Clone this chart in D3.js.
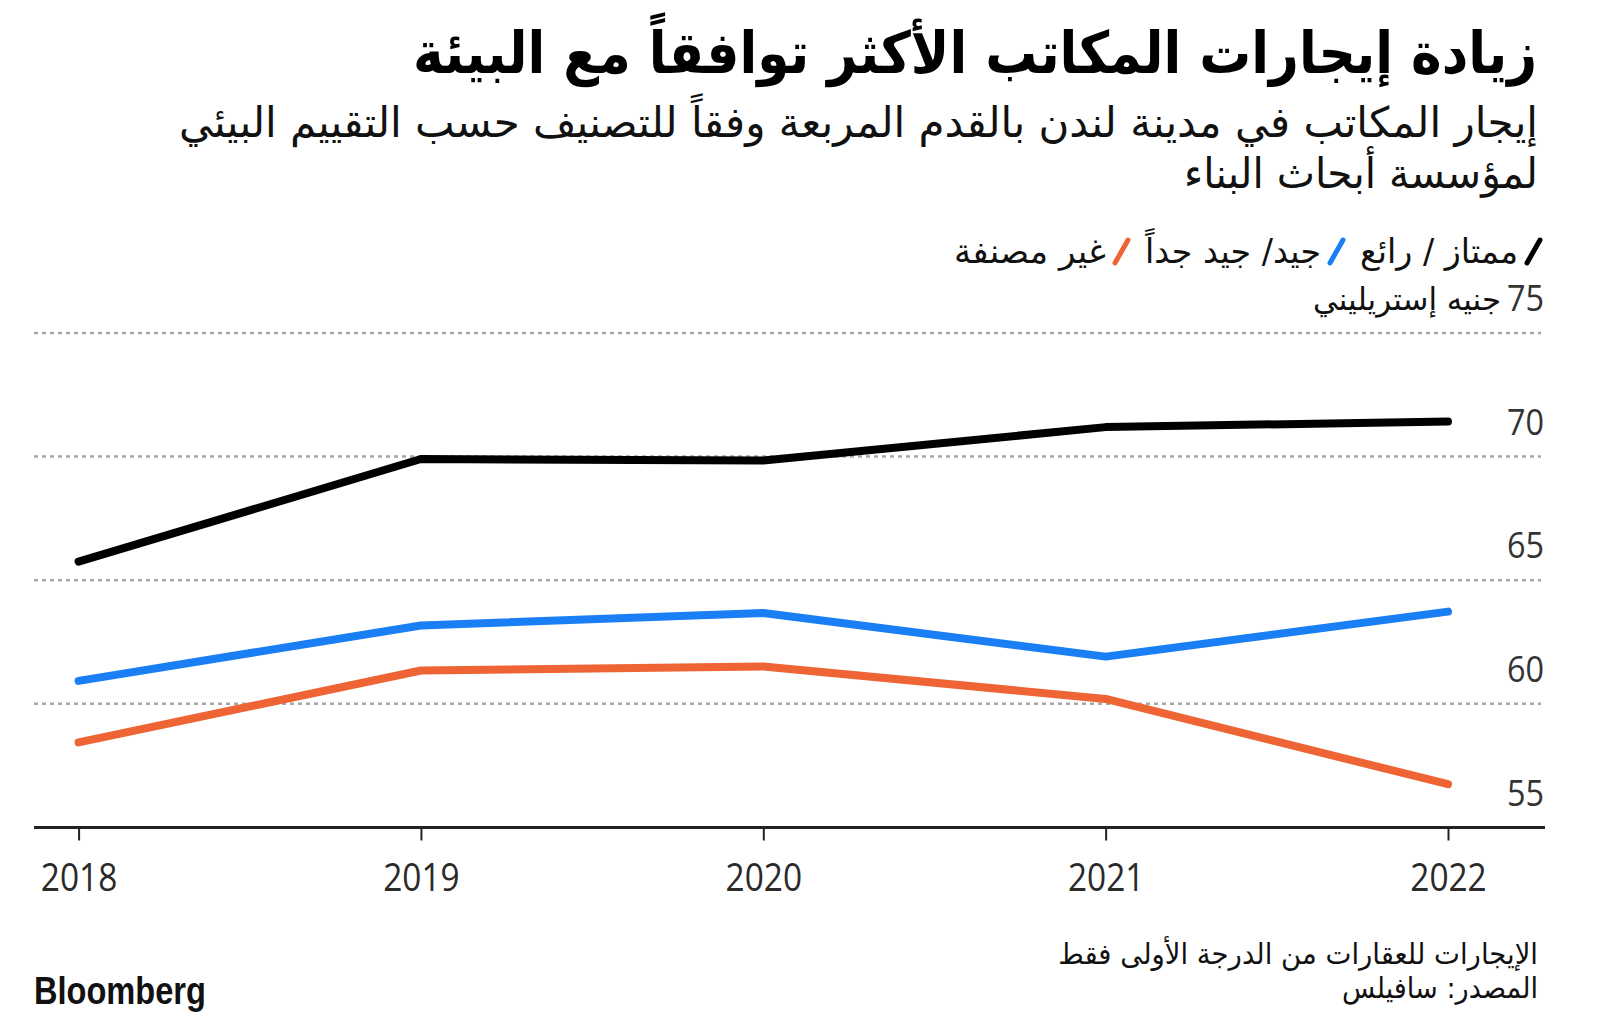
<!DOCTYPE html>
<html>
<head>
<meta charset="utf-8">
<script src="https://cdn.jsdelivr.net/npm/d3@7"></script>
<style>
  html, body { margin: 0; padding: 0; background: #fff; }
  svg { display: block; }
</style>
</head>
<body>
<svg id="chart" width="1600" height="1025"></svg>
<script>
// ---------- data ----------
const years = [2018, 2019, 2020, 2021, 2022];
const excellentOutstanding = [65.75, 69.9, 69.84, 71.19, 71.42];
const goodVeryGood = [60.93, 63.17, 63.67, 61.91, 63.73];
const unrated = [58.44, 61.35, 61.51, 60.2, 56.75];
const seriesNames = ["ممتاز / رائع", "جيد/ جيد جداً", "غير مصنفة"];
const yTicks = [55, 60, 65, 70, 75];
const xTickLabels = ["2018", "2019", "2020", "2021", "2022"];
const titleText = "زيادة إيجارات المكاتب الأكثر توافقاً مع البيئة";
const subtitleLines = ["إيجار المكاتب في مدينة لندن بالقدم المربعة وفقاً للتصنيف حسب التقييم البيئي", "لمؤسسة أبحاث البناء"];
const unitText = "جنيه إستريليني";
const noteLines = ["الإيجارات للعقارات من الدرجة الأولى فقط", "المصدر: سافيلس"];
const brandText = "Bloomberg";

// ---------- style ----------
const seriesColors = ["#000000", "#1a7ff5", "#ee6434"];
const arabicFont = "'DejaVu Sans', sans-serif";
const numFont = "'Open Sans', 'Noto Sans', sans-serif";

const svg = d3.select("#chart");

const x = d3.scaleLinear().domain([2018, 2022]).range([78.6, 1448]);
const y = d3.scaleLinear().domain([55, 75]).range([827.5, 332.9]);

// fit helper: right-anchored text scaled horizontally to a given width
function fitText(sel, width, xRight, yBase) {
  sel.attr("text-anchor", "end").attr("x", 0).attr("y", 0);
  const w = sel.node().getComputedTextLength();
  const s = width / w;
  sel.attr("transform", `translate(${xRight},${yBase}) scale(${s},1)`);
  return sel;
}

// ---------- title & subtitle ----------
fitText(svg.append("text").text(titleText)
  .attr("font-family", arabicFont).attr("font-weight", 700)
  .attr("font-size", 58).attr("fill", "#000"), 1124, 1537, 73);

const subBases = [137, 188];
const subWidths = [1359, 354];
subtitleLines.forEach((t, i) => {
  fitText(svg.append("text").text(t)
    .attr("font-family", arabicFont).attr("font-size", 42).attr("fill", "#111"),
    subWidths[i], 1538, subBases[i]);
});

// ---------- legend ----------
const legendWidths = [158, 176, 152];
let cursor = 1543;
seriesNames.forEach((name, i) => {
  svg.append("line")
    .attr("x1", cursor - 16).attr("y1", 263)
    .attr("x2", cursor - 3).attr("y2", 240)
    .attr("stroke", seriesColors[i]).attr("stroke-width", 5)
    .attr("stroke-linecap", "round");
  const right = cursor - 25;
  fitText(svg.append("text").text(name)
    .attr("font-family", arabicFont).attr("font-size", 34).attr("fill", "#111"),
    legendWidths[i], right, 263);
  cursor = right - legendWidths[i] - 14;
});

// ---------- gridlines ----------
const grid = svg.append("g");
grid.selectAll("line").data(yTicks.filter(d => d > 55)).join("line")
  .attr("x1", 34).attr("x2", 1541)
  .attr("y1", d => y(d)).attr("y2", d => y(d))
  .attr("stroke", "#a6a6a6").attr("stroke-width", 2.5)
  .attr("stroke-dasharray", "4,4");

// y tick labels (right side, above gridlines)
svg.append("g").selectAll("text").data(yTicks).join("text")
  .attr("text-anchor", "end")
  .attr("font-family", numFont).attr("font-size", 36)
  .attr("fill", "#333")
  .attr("transform", d => `translate(1544,${y(d) - 22}) scale(0.9,1)`)
  .text(d => d);

// unit label next to top tick
fitText(svg.append("text").text(unitText)
  .attr("font-family", arabicFont).attr("font-size", 31).attr("fill", "#111"),
  188, 1501, 310);

// ---------- x axis ----------
const xAxis = d3.axisBottom(x)
  .tickValues(years)
  .tickFormat((d, i) => xTickLabels[i])
  .tickSize(13)
  .tickSizeOuter(0);
const gx = svg.append("g").attr("transform", `translate(0,${y(55)})`).call(xAxis);
gx.select(".domain").remove();
gx.selectAll(".tick line").attr("stroke", "#222").attr("stroke-width", 2);
gx.selectAll(".tick text")
  .attr("font-family", numFont).attr("font-size", 38).attr("fill", "#2a2a2a")
  .attr("y", 0).attr("dy", 0)
  .attr("transform", "translate(0,63) scale(0.88,1)");
svg.append("line")
  .attr("x1", 34).attr("x2", 1545)
  .attr("y1", y(55)).attr("y2", y(55))
  .attr("stroke", "#222").attr("stroke-width", 3);

// ---------- lines ----------
const seriesValues = [excellentOutstanding, goodVeryGood, unrated];
const line = d3.line().x((d, i) => x(years[i])).y(d => y(d));
[2, 1, 0].forEach(k => {
  svg.append("path")
    .datum(seriesValues[k])
    .attr("d", line)
    .attr("fill", "none")
    .attr("stroke", seriesColors[k])
    .attr("stroke-width", 8)
    .attr("stroke-linecap", "round")
    .attr("stroke-linejoin", "round");
});

// ---------- footer ----------
const noteBases = [964, 998];
const noteWidths = [480, 196];
noteLines.forEach((t, i) => {
  fitText(svg.append("text").text(t)
    .attr("font-family", arabicFont).attr("font-size", 29).attr("fill", "#111"),
    noteWidths[i], 1538, noteBases[i]);
});

const brand = svg.append("text").text(brandText)
  .attr("font-family", "'Liberation Sans', Arial, sans-serif")
  .attr("font-weight", 700).attr("font-size", 38).attr("fill", "#111");
brand.attr("x", 0).attr("y", 0);
{
  const w = brand.node().getComputedTextLength();
  brand.attr("transform", `translate(34,1004) scale(${172 / w},1)`);
}
</script>
</body>
</html>
